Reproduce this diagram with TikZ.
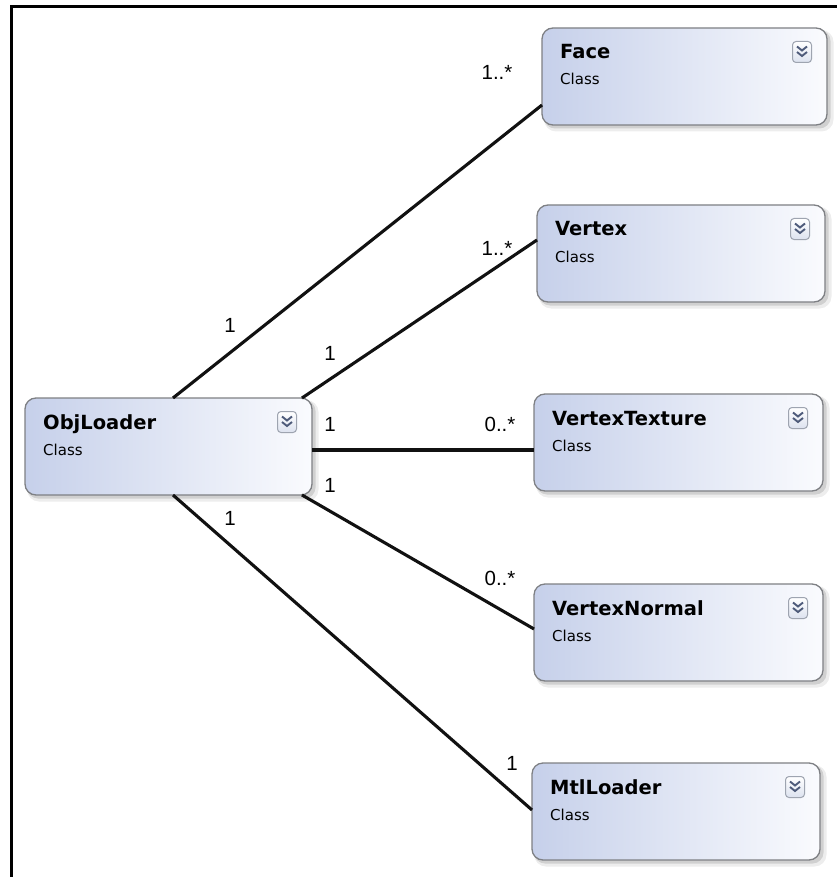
\documentclass[tikz,border=0pt]{standalone}
\usepackage{fontspec}
\setmainfont{DejaVu Sans}
\newfontfamily\multfont{Liberation Sans}
\usetikzlibrary{calc}

\definecolor{boxedge}{HTML}{7E8084}
\definecolor{boxleft}{HTML}{C6D0EA}
\definecolor{boxright}{HTML}{FAFBFE}
\definecolor{chev}{HTML}{4E5B7A}
\definecolor{iconedge}{HTML}{9EA4B0}
\definecolor{iconfill}{HTML}{DCE2EF}
\definecolor{wire}{HTML}{111111}

\tikzset{
  classbody/.style={draw=boxedge, line width=1.3pt, rounded corners=11pt,
    minimum height=97pt, left color=boxleft, right color=boxright,
    anchor=north west, inner sep=0pt, outer sep=0pt},
  classtitle/.style={anchor=base west, inner sep=0pt, font=\bfseries\fontsize{19.5}{20}\selectfont},
  classkind/.style={anchor=base west, inner sep=0pt, font=\fontsize{15}{16}\selectfont},
  expander/.style={draw=iconedge, line width=1pt, rounded corners=3.5pt,
    minimum width=19pt, minimum height=21pt, inner sep=0pt,
    top color=white, bottom color=iconfill},
  chevron/.style={draw=chev, line width=1.9pt},
  assoc/.style={draw=wire, line width=3.1pt},
  mult/.style={inner sep=0pt, font=\multfont\fontsize{20.5}{21}\selectfont},
}

% \umlclass{name}{left}{top}{width}{title}
\newcommand\umlclass[5]{%
  \begin{scope}[shift={(#2pt,-#3pt)}]
    \fill[black, opacity=0.07, rounded corners=12pt] (2pt,-2pt) rectangle (#4pt+6.5pt,-103.5pt);
    \fill[black, opacity=0.12, rounded corners=11pt] (2pt,-2pt) rectangle (#4pt+3.5pt,-100.5pt);
    \node[classbody, minimum width=#4pt] (#1) at (0,0) {};
    \node[classtitle] (#1-title) at (18pt,-31pt) {#5};
    \node[classkind] (#1-kind) at (18pt,-57pt) {Class};
    \node[expander] (#1-icon) at (#4pt-25pt,-24pt) {};
    \draw[chevron] ([shift={(-5pt,5.5pt)}]#1-icon.center) -- ++(5pt,-4pt) -- ++(5pt,4pt);
    \draw[chevron] ([shift={(-5pt,0pt)}]#1-icon.center) -- ++(5pt,-4pt) -- ++(5pt,4pt);
  \end{scope}%
}

\begin{document}
\begin{tikzpicture}[x=1pt,y=1pt]
  \useasboundingbox (0,0) rectangle (837,-877);
  \fill[white] (0,0) rectangle (837,-877);

  % frame edges
  \draw[line width=2.7pt, black] (11.3,-877) -- (11.3,-6.7) -- (837,-6.7);

  % class boxes
  \umlclass{obj}{25}{398}{287}{ObjLoader}
  \umlclass{face}{542}{28}{285}{Face}
  \umlclass{vert}{537}{205}{288}{Vertex}
  \umlclass{vtex}{534}{394}{289}{VertexTexture}
  \umlclass{vnorm}{534}{584}{289}{VertexNormal}
  \umlclass{mtl}{532}{763}{288}{MtlLoader}

  % associations
  \draw[assoc] ([xshift=148pt]obj.north west) -- ([yshift=-77pt]face.north west);
  \draw[assoc] ([xshift=-10pt]obj.north east) -- ([yshift=-35pt]vert.north west);
  \draw[assoc] ([yshift=-52pt]obj.north east) -- ([yshift=-56pt]vtex.north west);
  \draw[assoc] ([xshift=-10pt]obj.south east) -- ([yshift=-45pt]vnorm.north west);
  \draw[assoc] ([xshift=148pt]obj.south west) -- ([yshift=-47pt]mtl.north west);

  % multiplicities
  \node[mult] (m-face-a) at (230,-325) {1};
  \node[mult] (m-face-b) at (497,-72) {1..*};
  \node[mult] (m-vert-a) at (330,-353) {1};
  \node[mult] (m-vert-b) at (497,-248) {1..*};
  \node[mult] (m-vtex-a) at (330,-424) {1};
  \node[mult] (m-vtex-b) at (500,-424) {0..*};
  \node[mult] (m-vnorm-a) at (330,-485) {1};
  \node[mult] (m-vnorm-b) at (500,-578) {0..*};
  \node[mult] (m-mtl-a) at (230,-518) {1};
  \node[mult] (m-mtl-b) at (512,-763) {1};
\end{tikzpicture}
\end{document}
